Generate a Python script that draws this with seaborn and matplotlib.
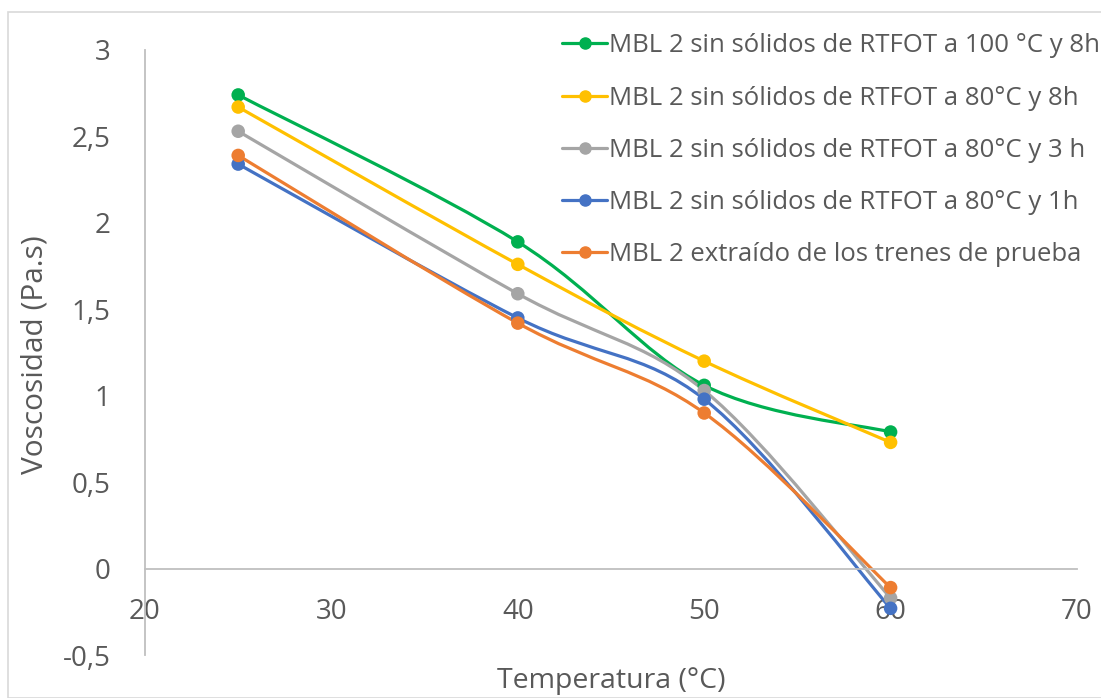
import numpy as np
import pandas as pd
import matplotlib
matplotlib.use("Agg")
import matplotlib.pyplot as plt
from matplotlib.path import Path
from matplotlib.patches import PathPatch, Rectangle
from matplotlib.lines import Line2D
import seaborn as sns

# Data
temperatura = [25, 40, 50, 60]
series_names = [
    "MBL 2 sin sólidos de RTFOT a 100 °C y 8h",
    "MBL 2 sin sólidos de RTFOT a 80°C y 8h",
    "MBL 2 sin sólidos de RTFOT a 80°C y 3 h",
    "MBL 2 sin sólidos de RTFOT a 80°C y 1h",
    "MBL 2 extraído de los trenes de prueba",
]
rtfot_100c_8h = [2.74, 1.89, 1.06, 0.79]
rtfot_80c_8h = [2.67, 1.76, 1.20, 0.73]
rtfot_80c_3h = [2.53, 1.59, 1.03, -0.17]
rtfot_80c_1h = [2.34, 1.45, 0.98, -0.23]
trenes_prueba = [2.39, 1.42, 0.90, -0.11]
series_values = [rtfot_100c_8h, rtfot_80c_8h, rtfot_80c_3h, rtfot_80c_1h, trenes_prueba]
colors = ["#00B050", "#FFC000", "#A5A5A5", "#4472C4", "#ED7D31"]

x_ticks = [20, 30, 40, 50, 60, 70]
y_ticks = [-0.5, 0, 0.5, 1, 1.5, 2, 2.5, 3]
y_tick_labels = ["-0,5", "0", "0,5", "1", "1,5", "2", "2,5", "3"]

df = pd.DataFrame({
    "Temperatura": np.tile(temperatura, len(series_names)),
    "Viscosidad": np.concatenate(series_values),
    "Serie": np.repeat(series_names, len(temperatura)),
})

sns.set_theme(style="white")
plt.rcParams["font.family"] = ["Open Sans", "DejaVu Sans"]

fig = plt.figure(figsize=(11.01, 6.98), dpi=100)
ax = fig.add_axes([145 / 1101, 1 - 655 / 698, (1077 - 145) / 1101, (655 - 50) / 698])


def smooth_path(xs, ys, tension=1 / 6):
    """Cubic Bezier path through the points (spreadsheet-style smoothed line)."""
    pts = np.column_stack([xs, ys]).astype(float)
    n = len(pts)
    verts = [pts[0]]
    codes = [Path.MOVETO]
    for i in range(n - 1):
        p0 = pts[i - 1] if i > 0 else pts[i]
        p1 = pts[i]
        p2 = pts[i + 1]
        p3 = pts[i + 2] if i + 2 < n else pts[i + 1]
        c1 = p1 + (p2 - p0) * tension
        c2 = p2 - (p3 - p1) * tension
        verts += [c1, c2, p2]
        codes += [Path.CURVE4] * 3
    return Path(verts, codes)


for name, vals, col in zip(series_names, series_values, colors):
    ax.add_patch(PathPatch(smooth_path(temperatura, vals), facecolor="none",
                           edgecolor=col, lw=2.3, zorder=2, capstyle="round"))

sns.scatterplot(data=df, x="Temperatura", y="Viscosidad", hue="Serie",
                palette=colors, hue_order=series_names, s=95, edgecolor="none",
                legend=False, ax=ax, zorder=3)

ax.set_xlim(20, 70)
ax.set_ylim(-0.5, 3)
ax.set_xticks(x_ticks)
ax.set_xticklabels([str(t) for t in x_ticks])
ax.set_yticks(y_ticks)
ax.set_yticklabels(y_tick_labels)
ax.set_xlabel("")
ax.set_ylabel("")

for s in ["top", "right"]:
    ax.spines[s].set_visible(False)
ax.spines["bottom"].set_position(("data", 0))
ax.spines["bottom"].set_color("#BFBFBF")
ax.spines["left"].set_color("#BFBFBF")
ax.spines["bottom"].set_linewidth(1.3)
ax.spines["left"].set_linewidth(1.3)
ax.tick_params(axis="both", length=0, labelsize=20, colors="#595959")
ax.tick_params(axis="x", pad=21)
ax.tick_params(axis="y", pad=25)
ax.patch.set_alpha(0)

fig.text(611 / 1101, 1 - 681 / 698, "Temperatura (°C)", ha="center", va="center",
         fontsize=20.5, color="#595959")
fig.text(35 / 1101, 1 - 355 / 698, "Voscosidad (Pa.s)", ha="center", va="center",
         rotation=90, fontsize=21.5, color="#595959")

handles = [Line2D([0], [0], color=c, lw=2.3, marker="o", markersize=8) for c in colors]
leg = ax.legend(handles, series_names, loc="upper left",
                bbox_to_anchor=(552 / 1101, 1 - 23 / 698), bbox_transform=fig.transFigure,
                frameon=False, fontsize=18.5, handlelength=1.75, handletextpad=0.08,
                labelspacing=1.06, borderaxespad=0)
for t in leg.get_texts():
    t.set_color("#595959")

fig.add_artist(Rectangle((8 / 1101, 0), 1.2, 1 - 12 / 698, transform=fig.transFigure,
                         facecolor="none", edgecolor="#D9D9D9", lw=1.2))

fig.savefig("out.png", dpi=100)
